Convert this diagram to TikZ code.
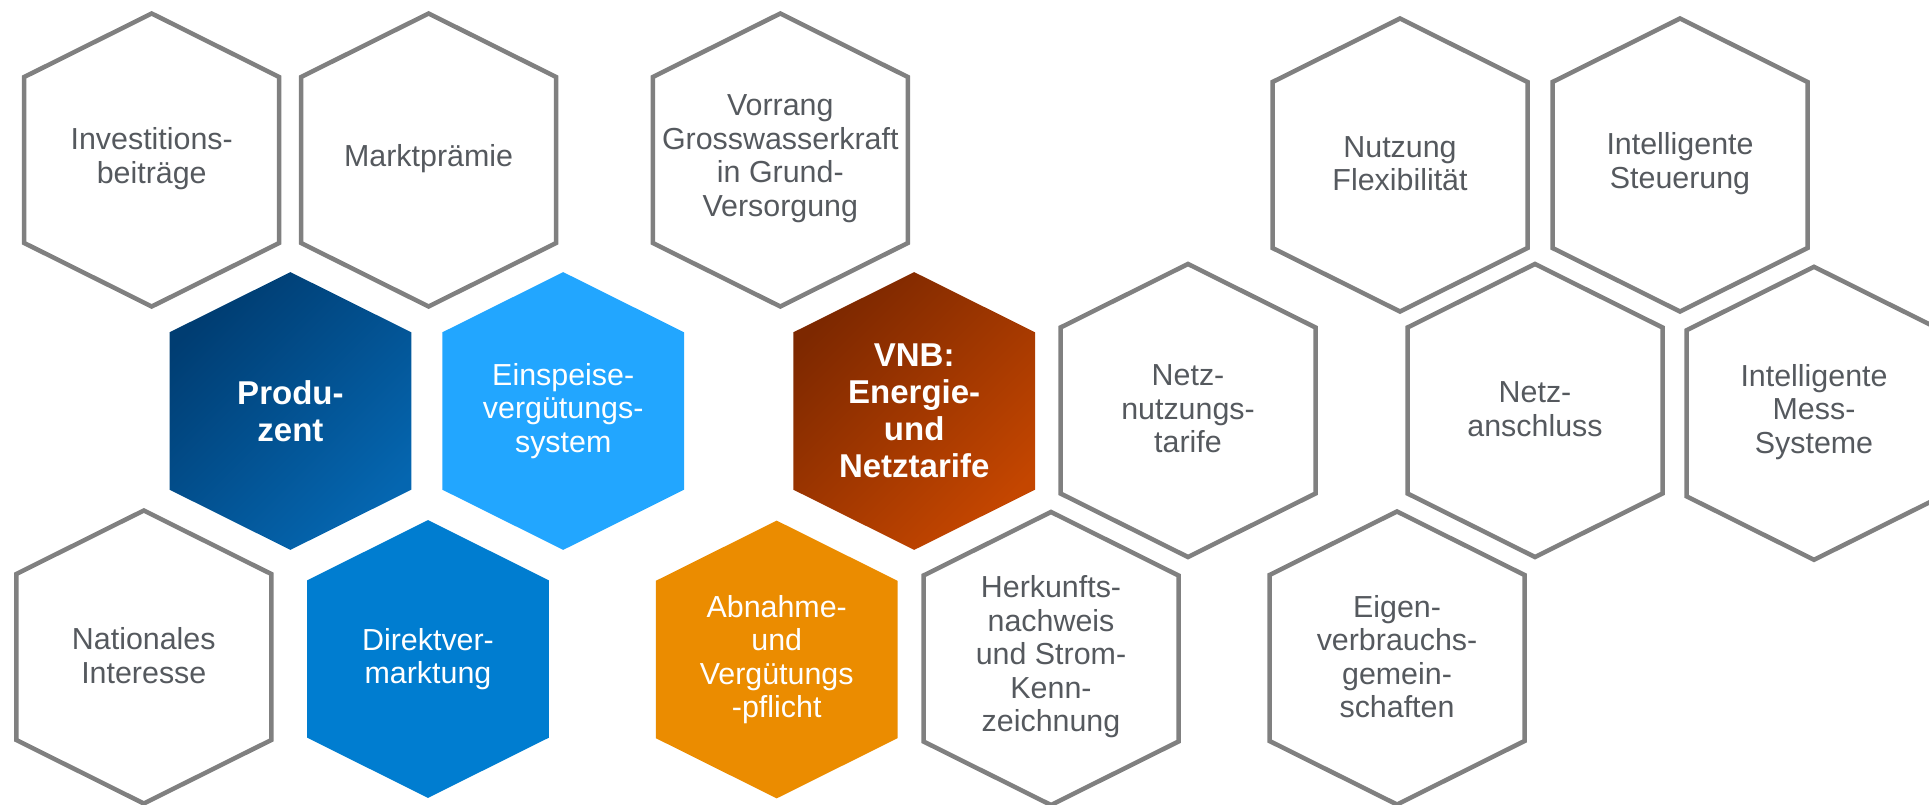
\documentclass[tikz,border=0pt]{standalone}
\usepackage{fontspec}
\setmainfont{Liberation Sans}
\usepackage{tikz}

\definecolor{hexgray}{HTML}{808080}
\definecolor{textgray}{HTML}{55595E}
\definecolor{prodtop}{HTML}{003D72}
\definecolor{prodbot}{HTML}{0566B0}
\definecolor{einsp}{HTML}{22A6FF}
\definecolor{direkt}{HTML}{007DD0}
\definecolor{vnbtop}{HTML}{7D2800}
\definecolor{vnbbot}{HTML}{C44600}
\definecolor{abnahme}{HTML}{EB8C00}

\tikzset{
  cellfont/.style={align=center, inner sep=0pt, font=\fontsize{30.4}{33.5}\selectfont},
  celltext/.style={cellfont, text=textgray, yshift=1.5pt},
  whitetext/.style={cellfont, text=white},
  boldtext/.style={cellfont, text=white, font=\fontsize{33}{37}\selectfont\bfseries},
  outline/.style={draw=hexgray, line width=4.5pt},
  filled/.style={scale=0.948},
}

% [text style]{cell style}{centre}{name}{text}
\newcommand{\hexcell}[5][celltext]{%
  \path[shift={(#3)}, #2]
    (0,146.5) -- (127.5,83) -- (127.5,-83) -- (0,-146.5) -- (-127.5,-83) -- (-127.5,83) -- cycle
    (0,0) node[#1] (#4) {#5};}

\begin{document}
\begin{tikzpicture}[x=1pt, y=1pt]
  \useasboundingbox (0,0) rectangle (1929,-805);
  \clip (0,0) rectangle (1929,-805);

  % top row
  \hexcell{outline}{151.7,-160}{invest}{Investitions-\\beiträge}
  \hexcell{outline}{428.6,-160}{praemie}{Marktprämie}
  \hexcell{outline}{780.3,-160}{vorrang}{Vorrang\\Grosswasserkraft\\in Grund-\\Versorgung}
  \hexcell{outline}{1400,-165}{flex}{Nutzung\\Flexibilität}
  \hexcell{outline}{1680,-165}{steuerung}{Intelligente\\Steuerung}

  % middle row
  \hexcell[boldtext]{filled, top color=prodtop, bottom color=prodbot, shading angle=45}{290.4,-411}{produzent}{Produ-\\zent}
  \hexcell[whitetext]{filled, fill=einsp}{563.2,-411}{einspeise}{Einspeise-\\vergütungs-\\system}
  \hexcell[boldtext]{filled, top color=vnbtop, bottom color=vnbbot, shading angle=45}{914.2,-411}{vnb}{VNB:\\Energie-\\und\\Netztarife}
  \hexcell{outline}{1188,-410.5}{nutzung}{Netz-\\nutzungs-\\tarife}
  \hexcell{outline}{1535,-410.5}{anschluss}{Netz-\\anschluss}
  \hexcell{outline}{1814,-413.3}{messsys}{Intelligente\\Mess-\\Systeme}

  % bottom row
  \hexcell{outline}{143.8,-657}{national}{Nationales\\Interesse}
  \hexcell[whitetext]{filled, fill=direkt}{428,-659}{direkt}{Direktver-\\marktung}
  \hexcell[whitetext]{filled, fill=abnahme}{776.7,-659.5}{abnahme}{Abnahme-\\und\\Vergütungs\\-pflicht}
  \hexcell{outline}{1051,-658.5}{herkunft}{Herkunfts-\\nachweis\\und Strom-\\Kenn-\\zeichnung}
  \hexcell{outline}{1397,-658}{eigen}{Eigen-\\verbrauchs-\\gemein-\\schaften}
\end{tikzpicture}
\end{document}
